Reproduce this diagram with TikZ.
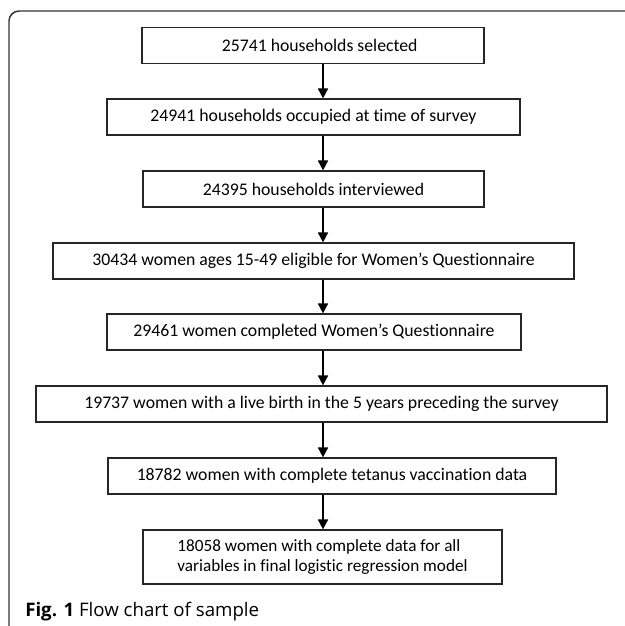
\documentclass[tikz,border=0pt]{standalone}
\usepackage{fontspec}
\setmainfont[Ligatures=NoCommon]{Carlito}
\newfontfamily\capfont{Open Sans}
\usetikzlibrary{arrows.meta}

\tikzset{
  flowbox/.style={draw=black!85, line width=0.9pt, minimum height=27pt,
    inner sep=2pt, font=\fontsize{13.3}{15.5}\selectfont},
  flowarrow/.style={line width=1.3pt, -{Triangle[length=7.5pt,width=7.5pt]}},
  framed/.style={draw=black!80, line width=1.1pt, rounded corners=7.5pt}
}

\begin{document}
\begin{tikzpicture}[x=0.75pt,y=-0.75pt]
    \useasboundingbox (0,0) rectangle (625,626);

    % outer frame of the figure
    \draw[framed] (625,11) -- (9,11) -- (9,626);

    % boxes of the sample flow
    \node[flowbox, minimum width=256.5pt] (sel) at (313,45.5) {\hspace*{10pt}25741 households selected};
    \node[flowbox, minimum width=309.75pt] (occ) at (313.5,117) {24941 households occupied at time of survey};
    \node[flowbox, minimum width=255.75pt] (intv) at (313.5,189) {24395 households interviewed};
    \node[flowbox, minimum width=390.75pt] (elig) at (313.5,261) {30434 women ages 15-49 eligible for Women’s Questionnaire};
    \node[flowbox, minimum width=310.5pt] (compl) at (314,332) {29461 women completed Women’s Questionnaire};
    \node[flowbox, minimum width=428.25pt] (birth) at (321.5,404) {19737 women with a live birth in the 5 years preceding the survey};
    \node[flowbox, minimum width=336pt] (tet) at (332,476) {18782 women with complete tetanus vaccination data};
    \node[flowbox, minimum width=269.25pt, minimum height=40.5pt, align=left,
          font=\fontsize{12.9}{14.5}\selectfont] (final) at (322.5,557)
        {18058 women with complete data for all\\variables in final logistic regression model};

    % arrows between boxes
    \coordinate (ax) at (323,0);
    \foreach \a/\b in {sel/occ, occ/intv, intv/elig, elig/compl, compl/birth, birth/tet, tet/final}
        \draw[flowarrow] (\a.south -| ax) -- (\b.north -| ax);

    % caption
    \node[anchor=base west, inner sep=0pt, font=\capfont\fontsize{14}{16}\selectfont] (cap) at (25,616)
        {\textbf{Fig. 1} Flow chart of sample};
\end{tikzpicture}
\end{document}
